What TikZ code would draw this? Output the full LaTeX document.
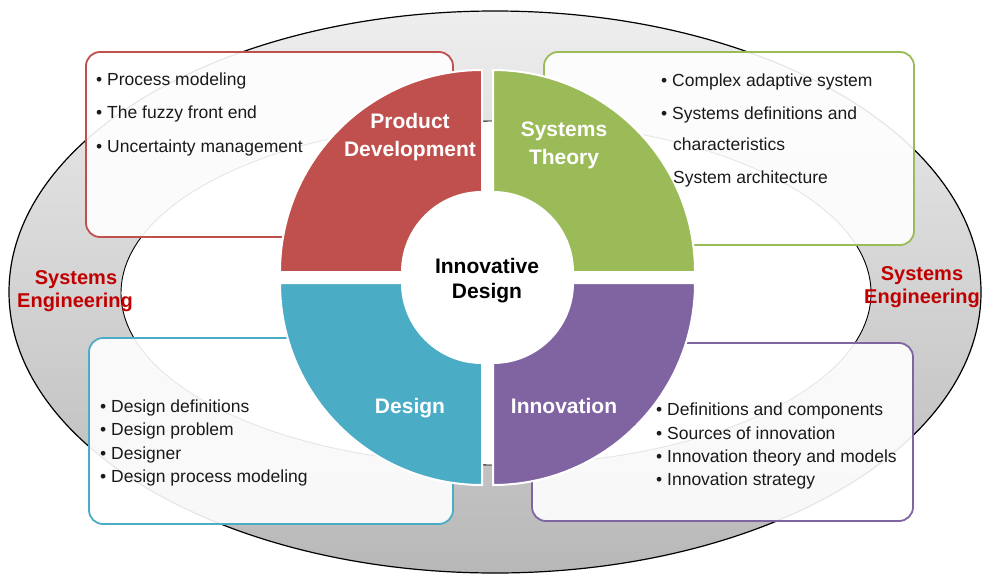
\documentclass[tikz,border=0pt]{standalone}
\usepackage{fontspec}
\setmainfont{Liberation Sans}
\definecolor{pdred}{HTML}{C0504D}
\definecolor{stgreen}{HTML}{9BBB59}
\definecolor{dsblue}{HTML}{4BACC6}
\definecolor{inpurple}{HTML}{8064A2}
\definecolor{serd}{HTML}{C00000}
\definecolor{ringtop}{HTML}{EEEEEE}
\definecolor{ringbot}{HTML}{B8B8B8}
\definecolor{txt}{HTML}{1A1A1A}
\begin{document}
\begin{tikzpicture}[x=1pt,y=1pt,
  box/.style={rectangle, rounded corners=14pt, draw=#1, line width=1.8pt, fill=white, fill opacity=0.9, inner sep=0pt},
  quarter/.style={fill=#1, draw=white, line width=2pt},
  itemtxt/.style={anchor=base west, inner sep=0pt, text=txt, font=\fontsize{17.5}{20}\selectfont},
  qlabel/.style={anchor=base, inner sep=0pt, text=white, font=\bfseries\fontsize{21}{24}\selectfont},
  ctrlabel/.style={anchor=base, inner sep=0pt, text=black, font=\bfseries\fontsize{21}{24}\selectfont},
  selabel/.style={anchor=base, inner sep=0pt, text=serd, font=\bfseries\fontsize{20}{24}\selectfont}]
\useasboundingbox (0,0) rectangle (982,-576);
\fill[white] (0,0) rectangle (982,-576);
% outer ring
\path[draw=black, line width=1.2pt, top color=ringtop, bottom color=ringbot] (495,-292) ellipse [x radius=486, y radius=281];
% inner ellipse
\path[draw=black, line width=0.9pt, fill=white] (496,-293) ellipse [x radius=375, y radius=172];
% boxes
\node[box=pdred, minimum width=367pt, minimum height=185pt] (pdbox) at (269.5,-144.5) {};
\node[box=stgreen, minimum width=370pt, minimum height=193pt] (stbox) at (729,-148.5) {};
\node[box=dsblue, minimum width=364pt, minimum height=186pt] (dsbox) at (271,-431) {};
\node[box=inpurple, minimum width=381pt, minimum height=178pt] (inbox) at (722.5,-432) {};
% white centre disc
\fill[white] (487.5,-277.5) circle [radius=88];
% quarters
\path[quarter=pdred] (280,-272) arc[start angle=180, end angle=90, radius=202] -- (482,-192) arc[start angle=90, end angle=180, radius=80] -- cycle;
\path[quarter=stgreen] (493,-70) arc[start angle=90, end angle=0, radius=202] -- (573,-272) arc[start angle=0, end angle=90, radius=80] -- cycle;
\path[quarter=dsblue] (280,-283) arc[start angle=180, end angle=270, radius=202] -- (482,-363) arc[start angle=270, end angle=180, radius=80] -- cycle;
\path[quarter=inpurple] (493,-485) arc[start angle=270, end angle=360, radius=202] -- (573,-283) arc[start angle=0, end angle=-90, radius=80] -- cycle;
% quarter labels
\node[qlabel] (pd1) at (410,-128) {Product};
\node[qlabel] (pd2) at (410,-156) {Development};
\node[qlabel] (st1) at (564,-136) {Systems};
\node[qlabel] (st2) at (564,-164) {Theory};
\node[qlabel] (ds1) at (410,-413) {Design};
\node[qlabel] (in1) at (564,-413) {Innovation};
% centre
\node[ctrlabel] (c1) at (487,-273) {Innovative};
\node[ctrlabel] (c2) at (487,-298) {Design};
% systems engineering
\node[selabel] (sel1) at (76,-284) {Systems};
\node[selabel] (sel2) at (75,-307) {Engineering};
\node[selabel] (ser1) at (922,-280) {Systems};
\node[selabel] (ser2) at (922,-303) {Engineering};
% red box items
\node[itemtxt] (pdi1) at (96,-85) {• Process modeling};
\node[itemtxt] (pdi2) at (96,-118.5) {• The fuzzy front end};
\node[itemtxt] (pdi3) at (96,-152) {• Uncertainty management};
% green box items
\node[itemtxt] (sti1) at (661,-86) {• Complex adaptive system};
\node[itemtxt] (sti2) at (661,-119) {• Systems definitions and};
\node[itemtxt] (sti3) at (673,-150) {characteristics};
\node[itemtxt] (sti4) at (673,-183) {System architecture};
% blue box items
\node[itemtxt] (dsi1) at (100,-412) {• Design definitions};
\node[itemtxt] (dsi2) at (100,-435) {• Design problem};
\node[itemtxt] (dsi3) at (100,-459) {• Designer};
\node[itemtxt] (dsi4) at (100,-482) {• Design process modeling};
% purple box items
\node[itemtxt] (ini1) at (656,-415) {• Definitions and components};
\node[itemtxt] (ini2) at (656,-439) {• Sources of innovation};
\node[itemtxt] (ini3) at (656,-462) {• Innovation theory and models};
\node[itemtxt] (ini4) at (656,-485) {• Innovation strategy};
\end{tikzpicture}
\end{document}
